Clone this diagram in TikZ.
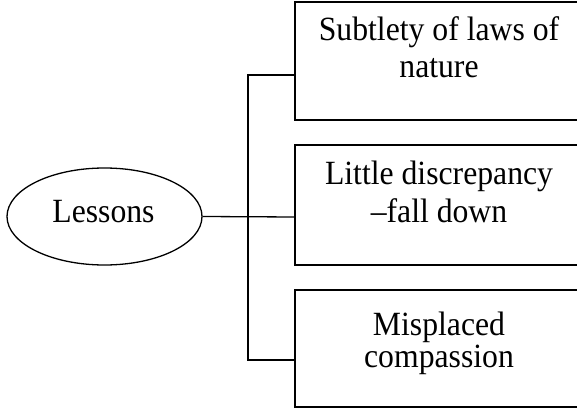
\documentclass[tikz,border=0pt]{standalone}
\usepackage{fontspec}
\setmainfont{Liberation Serif}
\usetikzlibrary{shapes.geometric}
\begin{document}
\begin{tikzpicture}[x=1pt,y=-1pt,
  link/.style={line width=1.3pt},
  topic/.style={draw,line width=1.3pt,rectangle},
  caption/.style={font=\fontsize{31.7}{35.5}\selectfont,align=center,anchor=base,inner sep=0pt,transform shape,yscale=1.07},
  hub/.style={draw,line width=1.3pt,ellipse,minimum width=195pt,minimum height=97pt,inner sep=0pt}]
\clip (0,0) rectangle (577,414);
\fill[white] (0,0) rectangle (577,414);

% central ellipse
\node[hub] (hub) at (104.5,216.5) {};
\node[caption] (hubtext) at (103.5,222) {Lessons};

% three topic boxes, running off to the right
\draw[topic] (295,2) rectangle (583,120);
\draw[topic] (295,145) rectangle (583,265);
\draw[topic] (295,290) rectangle (583,407);
\coordinate (b1) at (295,75);
\coordinate (b2) at (295,217);
\coordinate (b3) at (295,360);

\node[caption] (t1) at (439,78) {Subtlety of laws of\\nature};
\node[caption] (t2) at (439,222) {Little discrepancy\\–fall down};
\node[caption, font=\fontsize{31.7}{29}\selectfont] (t3) at (439,367) {Misplaced\\compassion};

% connectors
\coordinate (trunk) at (248,217);
\draw[link] (hub.east) -- (b2);
\draw[link] (b1) -| (trunk |- b3) -- (b3);
\end{tikzpicture}
\end{document}
